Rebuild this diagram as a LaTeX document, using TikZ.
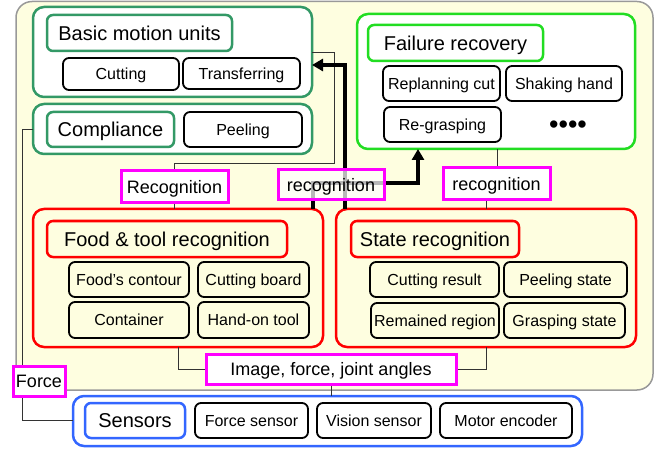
\documentclass[tikz,border=0pt]{standalone}
\usepackage{fontspec}
\setmainfont{Liberation Sans}
\usetikzlibrary{arrows.meta}
\definecolor{panelfill}{HTML}{FEFEE0}
\definecolor{panelline}{HTML}{999999}
\definecolor{motiongreen}{HTML}{339966}
\definecolor{recovgreen}{HTML}{22DD22}
\definecolor{recogred}{HTML}{FF0000}
\definecolor{sensblue}{HTML}{3366FF}
\definecolor{labelmag}{HTML}{FF00FF}
\begin{document}
\begin{tikzpicture}[x=1pt,y=-1pt,
  every node/.style={inner sep=0pt,outer sep=0pt,align=center},
  group/.style={draw,line width=2.5pt,rounded corners=11pt},
  grouptitle/.style={draw,line width=2.5pt,rounded corners=6pt,font=\fontsize{20}{24}\selectfont,text height=17pt,text depth=2.7pt},
  item/.style={draw=black,line width=1.8pt,rounded corners=6pt,font=\fontsize{16}{19}\selectfont,text height=13.6pt,text depth=2.15pt},
  tag/.style={draw=labelmag,line width=3pt,fill=white,font=\fontsize{18}{21}\selectfont,text height=15.3pt,text depth=2.4pt},
  wire/.style={line width=0.8pt,draw=black!80},
  flow/.style={line width=4pt,-{Triangle[length=11pt,width=12pt]}},
]
\useasboundingbox (0,0) rectangle (661,449);
% yellow background panel
\draw[panelline,fill=panelfill,line width=1.5pt,rounded corners=16pt] (16,1.5) rectangle (653,390);

% motion units and compliance
\node[group,draw=motiongreen,fill=white,minimum width=279pt,minimum height=90pt] (bmu) at (172.5,52) {};
\node[grouptitle,draw=motiongreen,fill=white,minimum width=185pt,minimum height=36pt] (bmuT) at (139.5,33) {Basic motion units};
\node[item,minimum width=116pt,minimum height=32pt] (cut) at (121,74) {Cutting};
\node[item,minimum width=117pt,minimum height=31pt] (trans) at (241.5,73.5) {Transferring};
\node[group,draw=motiongreen,fill=white,minimum width=279pt,minimum height=50pt] (comp) at (172.5,129) {};
\node[grouptitle,draw=motiongreen,fill=white,minimum width=127pt,minimum height=35pt] (compT) at (110.5,129.5) {Compliance};
\node[item,minimum width=118pt,minimum height=35pt] (peel) at (243,129.5) {Peeling};

% failure recovery
\node[group,draw=recovgreen,fill=white,minimum width=278pt,minimum height=135pt] (fail) at (496,81.5) {};
\node[grouptitle,draw=recovgreen,fill=white,minimum width=175pt,minimum height=36pt] (failT) at (455.5,43) {Failure recovery};
\node[item,minimum width=117pt,minimum height=35pt] (repl) at (441.5,83.5) {Replanning cut};
\node[item,minimum width=116pt,minimum height=35pt] (shake) at (564,83.5) {Shaking hand};
\node[item,minimum width=117pt,minimum height=35pt] (regr) at (442.5,124.5) {Re-grasping};
\node[font=\fontsize{27}{28}\selectfont] (more) at (568,127) {••••};

% recognition groups
\node[group,draw=recogred,minimum width=290pt,minimum height=138pt] (food) at (178,278) {};
\node[grouptitle,draw=recogred,minimum width=240pt,minimum height=36pt] (foodT) at (167,239) {Food \& tool recognition};
\node[item,minimum width=120pt,minimum height=35pt] (fc) at (129,279.5) {Food’s contour};
\node[item,minimum width=111pt,minimum height=35pt] (cb) at (253.5,279.5) {Cutting board};
\node[item,minimum width=120pt,minimum height=36pt] (cont) at (129,320) {Container};
\node[item,minimum width=111pt,minimum height=36pt] (hot) at (253.5,320) {Hand-on tool};

\node[group,draw=recogred,minimum width=300pt,minimum height=138pt] (state) at (486,278) {};
\node[grouptitle,draw=recogred,minimum width=168pt,minimum height=36pt] (stateT) at (435,239) {State recognition};
\node[item,minimum width=129pt,minimum height=35pt] (cr) at (434.5,279.5) {Cutting result};
\node[item,minimum width=123pt,minimum height=35pt] (ps) at (565.5,279.5) {Peeling state};
\node[item,minimum width=128pt,minimum height=35pt] (rr) at (435,320.5) {Remained region};
\node[item,minimum width=121pt,minimum height=35pt] (gs) at (564.5,320.5) {Grasping state};

% sensors
\node[group,draw=sensblue,fill=white,minimum width=509pt,minimum height=50pt] (sens) at (327.5,421) {};
\node[grouptitle,draw=sensblue,fill=white,minimum width=100pt,minimum height=35pt] (sensT) at (135,420.5) {Sensors};
\node[item,minimum width=113pt,minimum height=35pt] (fs) at (251.5,420.5) {Force sensor};
\node[item,minimum width=114pt,minimum height=35pt] (vs) at (374,420.5) {Vision sensor};
\node[item,minimum width=132pt,minimum height=35pt] (me) at (506,420.5) {Motor encoder};

% thin signal wires
\coordinate (kA) at (334,163);
\coordinate (kF) at (22,420);
\coordinate (kR) at (174.5,171);
\draw[wire] (bmu.east) -| (kA) -| (kR);
\draw[wire] (kR |- food.north) -- (kR);
\draw[wire] (comp.west) -| (kF) -- (kF -| sens.west);
\coordinate (kI) at (331,369);
\coordinate (kJ) at (331,384);
\draw[wire] (food.south) |- (kI);
\draw[wire] (state.south) |- (kI);
\draw[wire] (kJ) -- (kJ |- sens.north);
\coordinate (kS) at (497,170);
\draw[wire] (fail.south -| kS) -- (kS);
\draw[wire] (state.north) -- (state.north |- 0,190);

% thick feedback paths
\coordinate (t1) at (313,209);
\coordinate (t2) at (418,183);
\coordinate (t3) at (345,209);
\coordinate (t4) at (312,65);
\draw[flow] (t1) |- (t2) -- (t2 |- fail.south);
\draw[flow] (t3) |- (t4);

% signal labels
\node[tag,minimum width=107pt,minimum height=32pt] (recL) at (174.5,187) {Recognition};
\node[tag,fill opacity=0.72,text opacity=1,minimum width=106pt,minimum height=30pt] (recM) at (331,185) {recognition};
\node[tag,minimum width=107pt,minimum height=32pt] (recR) at (496.5,184) {recognition};
\node[tag,minimum width=250pt,minimum height=30pt] (img) at (331,369) {Image, force, joint angles};
\node[tag,minimum width=52pt,minimum height=30pt] (frc) at (39,381) {Force};
\end{tikzpicture}
\end{document}
